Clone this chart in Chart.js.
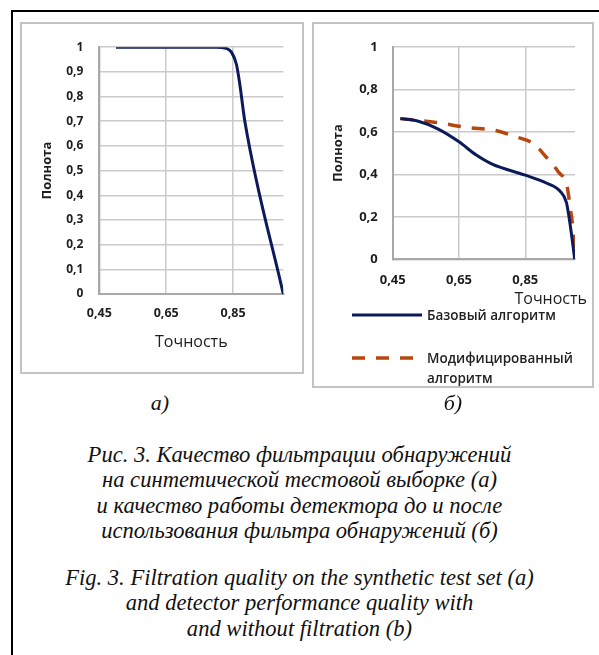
<!DOCTYPE html>
<html lang="ru">
<head>
<meta charset="utf-8">
<title>Рис. 3. Качество фильтрации обнаружений</title>
<script src="https://cdn.jsdelivr.net/npm/chart.js@4.4.1/dist/chart.umd.min.js"></script>
<style>
  body { margin: 0; width: 599px; height: 655px; background: #fff; position: relative; overflow: hidden; font-family: "Open Sans", sans-serif; }
  .frame { position: absolute; left: 11px; top: 10px; width: 600px; height: 660px; border-left: 2px solid #000; border-top: 2px solid #000; }
  .panel { position: absolute; border: 2px solid #c3c3c3; box-sizing: border-box; }
  #panelA { left: 20px; top: 22px; width: 284px; height: 352px; }
  #panelB { left: 312px; top: 22px; width: 282px; height: 366px; }
  canvas { position: absolute; }
  #chartA { left: 22px; top: 24px; }
  #chartB { left: 314px; top: 24px; }
  .xtitle { position: absolute; font-size: 16px; color: #1e1e1e; line-height: 18px; }
  .legend-row { position: absolute; left: 352px; display: flex; align-items: flex-start; font-size: 13.5px; font-weight: 600; color: #222; line-height: 20px; }
  .legend-row svg { margin-right: 5px; flex: none; }
  .legend-row span { width: 160px; }
  .cap { position: absolute; left: 0; width: 599px; text-align: center; font-family: "Liberation Serif", "Times New Roman", serif; font-style: italic; font-size: 22.6px; line-height: 25.3px; color: #111; }
  .sub { position: absolute; width: 40px; text-align: center; font-family: "Liberation Serif", serif; font-style: italic; font-size: 22px; line-height: 24px; color: #111; }
</style>
</head>
<body>
<div class="frame"></div>
<div class="panel" id="panelA"></div>
<div class="panel" id="panelB"></div>
<canvas id="chartA" width="280" height="348"></canvas>
<canvas id="chartB" width="278" height="362"></canvas>
<div class="xtitle" style="right: 12px; top: 289px;">Точность</div>
<div class="legend-row" id="legendBase" style="top: 305px;"></div>
<div class="legend-row" id="legendMod" style="top: 348px;"></div>
<div class="sub" style="left: 140px; top: 391px;">а)</div>
<div class="sub" style="left: 433px; top: 391px;">б)</div>
<div class="cap" style="top: 442px;">Рис. 3. Качество фильтрации обнаружений<br>на синтетической тестовой выборке (а)<br>и качество работы детектора до и после<br>использования фильтра обнаружений (б)</div>
<div class="cap" style="top: 565px;">Fig. 3. Filtration quality on the synthetic test set (a)<br>and detector performance quality with<br>and without filtration (b)</div>

<script>
// Рис. 3а: полнота от точности на синтетической выборке
const precisionA = [0.5, 0.6, 0.7, 0.8, 0.83, 0.845, 0.86, 0.87, 0.885, 1.0];
const recallA = [1, 1, 1, 1, 0.995, 0.98, 0.93, 0.85, 0.7, 0];

// Рис. 3б: базовый и модифицированный алгоритм
const precisionBase = [0.473, 0.525, 0.586, 0.65, 0.70, 0.75, 0.85, 0.915, 0.955, 0.974, 0.981, 0.992, 0.999];
const recallBase = [0.662, 0.651, 0.614, 0.553, 0.493, 0.448, 0.396, 0.358, 0.32, 0.268, 0.208, 0.087, 0];
const precisionMod = [0.473, 0.581, 0.673, 0.761, 0.822, 0.873, 0.915, 0.95, 0.976, 0.986, 0.995, 0.999];
const recallMod = [0.662, 0.644, 0.621, 0.606, 0.576, 0.546, 0.478, 0.411, 0.343, 0.237, 0.119, 0];

const seriesNames = ['Базовый алгоритм', 'Модифицированный алгоритм'];
const xTicks = [0.45, 0.65, 0.85];
const xMin = 0.45, xMax = 1.0;
const yStepA = 0.1, yStepB = 0.2;

const NAVY = '#0c1a5a';
const ORANGE = '#b5470f';
const GRID = '#cacaca';
const AXIS = '#a8a8a8';
const TEXT = '#1e1e1e';

function toPoints(xs, ys) {
    return xs.map((x, i) => ({ x: x, y: ys[i] }));
}

// 0.45 -> "0,45"
function fmt(value) {
    return String(+Number(value).toFixed(2)).replace('.', ',');
}

function xScale(opts) {
    return {
        type: 'linear',
        min: xMin,
        max: xMax,
        afterBuildTicks: function(scale) {
            scale.ticks = xTicks.map(v => ({ value: v }));
        },
        grid: { color: GRID, lineWidth: 1.5, drawTicks: false },
        border: { color: AXIS, width: 2 },
        ticks: { padding: opts.tickPad, color: TEXT, font: { family: 'Open Sans', size: opts.tickSize, weight: 'bold' }, callback: fmt, maxRotation: 0 },
        title: { display: opts.title, text: 'Точность', color: TEXT, font: { family: 'Open Sans', size: 16 }, padding: 0 },
        afterFit: function(scale) { scale.height = opts.height; }
    };
}

function yScale(opts) {
    return {
        min: 0,
        max: 1,
        grid: { color: GRID, lineWidth: 1.5, drawTicks: false },
        border: { color: AXIS, width: 2 },
        ticks: { stepSize: opts.step, padding: opts.tickPad, color: TEXT, font: { family: 'Open Sans', size: opts.tickSize, weight: 'bold' }, callback: fmt },
        title: { display: true, text: 'Полнота', color: TEXT, font: { family: 'Open Sans', size: 13, weight: 'bold' }, padding: { top: opts.titlePad, bottom: 0 } },
        afterFit: function(scale) { scale.width = opts.width; }
    };
}

const common = {
    responsive: false,
    animation: false,
    events: [],
    plugins: { legend: { display: false }, tooltip: { enabled: false } }
};

/**
 * Рис. 3а
 */
function initChartA() {
    const ctx = document.getElementById('chartA').getContext('2d');
    new Chart(ctx, {
        type: 'line',
        data: {
            datasets: [{
                data: toPoints(precisionA, recallA),
                borderColor: NAVY,
                borderWidth: 3,
                pointRadius: 0,
                cubicInterpolationMode: 'monotone',
                fill: false
            }]
        },
        options: Object.assign({}, common, {
            layout: { padding: { left: 8, right: 18.7, top: 22, bottom: 20 } },
            scales: {
                x: xScale({ tickPad: 12, tickSize: 12.5, title: true, height: 58 }),
                y: yScale({ step: yStepA, tickPad: 16, tickSize: 12, titlePad: 9, width: 69.3 })
            }
        })
    });
}

/**
 * Рис. 3б
 */
function initChartB() {
    const ctx = document.getElementById('chartB').getContext('2d');
    new Chart(ctx, {
        type: 'line',
        data: {
            datasets: [
                {
                    label: seriesNames[0],
                    data: toPoints(precisionBase, recallBase),
                    borderColor: NAVY,
                    borderWidth: 3,
                    pointRadius: 0,
                    cubicInterpolationMode: 'monotone',
                    fill: false
                },
                {
                    label: seriesNames[1],
                    data: toPoints(precisionMod, recallMod),
                    borderColor: ORANGE,
                    borderWidth: 3.5,
                    borderDash: [13, 11],
                    pointRadius: 0,
                    cubicInterpolationMode: 'monotone',
                    fill: false
                }
            ]
        },
        options: Object.assign({}, common, {
            layout: { padding: { left: 8, right: 17, top: 13, bottom: 86.7 } },
            scales: {
                x: xScale({ tickPad: 13, tickSize: 13, title: false, height: 40 }),
                y: yScale({ step: yStepB, tickPad: 15, tickSize: 13, titlePad: 8.2, width: 70.7 })
            }
        })
    });
}

// Легенда под графиком 3б
function buildLegend() {
    const rows = [
        { id: 'legendBase', color: NAVY, width: 3, dash: '' },
        { id: 'legendMod', color: ORANGE, width: 3.5, dash: '13 11' }
    ];
    rows.forEach(function(r, i) {
        const el = document.getElementById(r.id);
        el.innerHTML =
            '<svg width="70" height="20"><line x1="0" y1="10" x2="70" y2="10" stroke="' + r.color +
            '" stroke-width="' + r.width + '"' + (r.dash ? ' stroke-dasharray="' + r.dash + '"' : '') + '/></svg>' +
            '<span>' + seriesNames[i] + '</span>';
    });
}

initChartA();
initChartB();
buildLegend();
</script>
</body>
</html>
